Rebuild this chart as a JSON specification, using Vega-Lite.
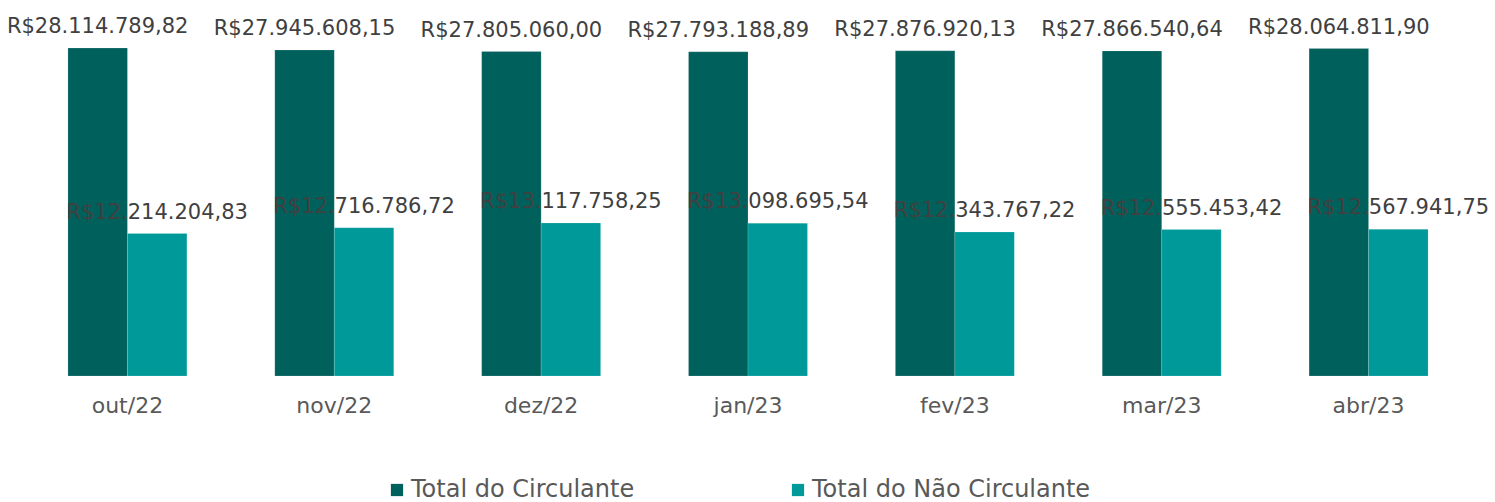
{
  "$schema": "https://vega.github.io/schema/vega-lite/v6.json",
  "autosize": {"type": "none"},
  "width": 1448,
  "height": 350,
  "padding": {"left": 24, "top": 26, "right": 23, "bottom": 126},
  "background": "white",
  "config": {
    "locale": {"number": {"decimal": ",", "thousands": ".", "grouping": [3], "currency": ["R$", ""]}},
    "view": {"stroke": null},
    "font": "DejaVu Sans"
  },
  "data": {"values": [
    {"mes": "out/22", "serie": "Total do Circulante", "valor": 28114789.82},
    {"mes": "out/22", "serie": "Total do Não Circulante", "valor": 12214204.83},
    {"mes": "nov/22", "serie": "Total do Circulante", "valor": 27945608.15},
    {"mes": "nov/22", "serie": "Total do Não Circulante", "valor": 12716786.72},
    {"mes": "dez/22", "serie": "Total do Circulante", "valor": 27805060.00},
    {"mes": "dez/22", "serie": "Total do Não Circulante", "valor": 13117758.25},
    {"mes": "jan/23", "serie": "Total do Circulante", "valor": 27793188.89},
    {"mes": "jan/23", "serie": "Total do Não Circulante", "valor": 13098695.54},
    {"mes": "fev/23", "serie": "Total do Circulante", "valor": 27876920.13},
    {"mes": "fev/23", "serie": "Total do Não Circulante", "valor": 12343767.22},
    {"mes": "mar/23", "serie": "Total do Circulante", "valor": 27866540.64},
    {"mes": "mar/23", "serie": "Total do Não Circulante", "valor": 12555453.42},
    {"mes": "abr/23", "serie": "Total do Circulante", "valor": 28064811.90},
    {"mes": "abr/23", "serie": "Total do Não Circulante", "valor": 12567941.75}
  ]},
  "encoding": {
    "x": {
      "field": "mes", "type": "nominal", "sort": null,
      "scale": {"paddingInner": 0.425, "paddingOuter": 0.2125},
      "axis": {"title": null, "labelAngle": 0, "ticks": false, "domain": false,
               "labelFontSize": 22, "labelColor": "#595959", "labelPadding": 19, "labelFont": "DejaVu Sans"}
    },
    "xOffset": {"field": "serie", "type": "nominal", "scale": {"paddingInner": 0, "paddingOuter": 0}},
    "y": {
      "field": "valor", "type": "quantitative",
      "scale": {"domain": [0, 30000000], "nice": false},
      "axis": null
    }
  },
  "layer": [
    {
      "mark": {"type": "bar", "stroke": "white", "strokeWidth": 0.5, "strokeOpacity": 0.3},
      "encoding": {
        "color": {
          "field": "serie", "type": "nominal",
          "scale": {"domain": ["Total do Circulante", "Total do Não Circulante"], "range": ["#00605C", "#009999"]},
          "legend": {
            "title": null, "orient": "none", "direction": "horizontal",
            "legendX": 361, "legendY": 452,
            "symbolType": "square", "symbolSize": 150, "symbolStrokeWidth": 0,
            "labelFontSize": 24, "labelColor": "#595959", "labelFont": "DejaVu Sans",
            "labelOffset": 2, "columnPadding": 151, "labelLimit": 400
          }
        }
      }
    },
    {
      "mark": {"type": "text", "baseline": "alphabetic", "dy": -15, "fontSize": 21, "color": "#404040", "font": "DejaVu Sans"},
      "encoding": {
        "text": {"field": "valor", "type": "quantitative", "format": "$,.2f"}
      }
    }
  ]
}
